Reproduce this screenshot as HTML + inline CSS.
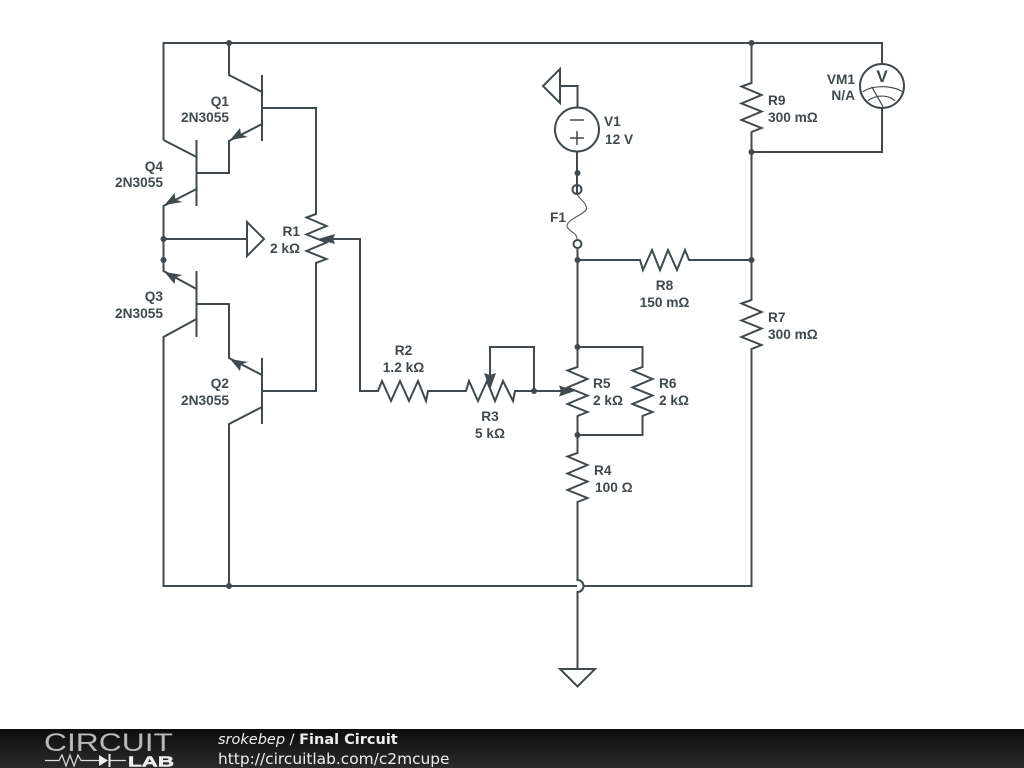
<!DOCTYPE html>
<html><head><meta charset="utf-8"><style>
html,body{margin:0;padding:0;background:#fff;width:1024px;height:768px;overflow:hidden}
svg{display:block}
.w{fill:none;stroke:#40494d;stroke-width:2;stroke-linejoin:miter}
.l{font:bold 13.700px "Liberation Sans",sans-serif;fill:#40494d}
.a{fill:#40494d;stroke:none}
</style></head><body>
<svg width="1024" height="768" viewBox="0 0 1024 768" xmlns="http://www.w3.org/2000/svg">
<defs><linearGradient id="g" x1="0" y1="0" x2="0" y2="1"><stop offset="0" stop-color="#0d0d0d"/><stop offset="1" stop-color="#2b2b2b"/></linearGradient></defs>
<g class="w">
<path d="M163.500 140V43H882V64M882 108V152H751.500"/>
<path d="M229 43V75L262 92M262 75V141M262 108H316V214L306.500 217.500L326.500 226L306.500 234.500L326.500 242.500L306.500 251L326.500 259L316 263V391H262M262 124L229 141V173H196.500"/>
<path d="M196.500 140V206M163.500 140L196.500 157M196.500 189L163.500 206V271L196.500 289M196.500 271V337M196.500 304H229V358L262 375M262 358V424M196.500 319L163.500 337V586H577M262 407L229 424V586"/>
<path d="M163.500 239H247M247 222V256L264 239Z"/>
<path d="M330 239H360V391H378L382 381L391 401L400 381L409 401L418 381L426 401L428 391H466L469 381L478 401L487 381L495 401L503 381L513 401L515 391H565"/>
<path d="M490 378V347H534V391"/>
<path d="M577.500 248V367L567.500 370.500L587.500 379L567.500 387.500L587.500 395.500L567.500 404L587.500 412L577.500 416V453L567.500 456.500L587.500 465L567.500 473.500L587.500 481.500L567.500 490L587.500 498L577.500 502V580A6 6 0 0 1 577.500 592V669"/>
<path d="M577.500 347H642.500V367L632.500 370.500L652.500 379L632.500 387.500L652.500 395.500L632.500 404L652.500 412L642.500 416V435H577.500"/>
<path d="M560 669H595L577.500 686.500Z"/>
<path d="M577.500 260H640L643 270L652 250L660 270L668 250L677 270L685 250L689 260H751.500"/>
<path d="M751.500 43V83L741.500 86.500L761.500 95L741.500 103.500L761.500 111.500L741.500 120L761.500 128L751.500 132V300L741.500 303.500L761.500 312L741.500 320.500L761.500 328.500L741.500 337L761.500 345L751.500 349V586H583.500"/>
<path d="M577.500 107V86H560M560 69V103L543 86Z"/>
<circle cx="577" cy="129.500" r="22"/>
<path d="M570 120H584M570 138H584M577 131V145" stroke-width="1.500"/>
<path d="M577 152V193.500"/>
<circle cx="577" cy="189.500" r="4.500"/>
<circle cx="577.500" cy="244" r="4"/>
<path d="M577 194C580 200 587 203 586.500 209C584 215 567 219 567 226C568 232 577 232 577 239" stroke-width="1.200" stroke="#666"/>
<circle cx="882" cy="86" r="22"/>
<path d="M862.700 91.700C873 85 892 85 903 92M868 100.700C876 94.500 888 94.500 895 100.700M871.700 86.700L883 106.700" stroke-width="1.200"/>
</g>
<g class="a">
<path d="M318 239L335 234L333 239L335 244Z"/>
<path d="M490 390L484 373L490 375L496 373Z"/>
<path d="M575 391L559 385.500L561 391L559 396.500Z"/>
<path d="M230 140L240 128L241 134.500L248 137Z"/>
<path d="M164.500 205L174.500 193L175.500 199.500L182.500 202Z"/>
<path d="M164.500 272L174.500 284L175.500 277.500L182.500 275Z"/>
<path d="M230 359L240 371L241 364.500L248 362Z"/>
<circle cx="229" cy="43" r="3"/><circle cx="751.500" cy="43" r="3"/><circle cx="751.500" cy="152" r="3"/>
<circle cx="751.500" cy="260" r="3"/><circle cx="577.500" cy="260" r="3"/><circle cx="577.500" cy="173" r="3"/>
<circle cx="163.500" cy="239" r="3"/><circle cx="163.500" cy="260" r="3"/><circle cx="229" cy="586" r="3"/>
<circle cx="534" cy="391" r="3"/><circle cx="577.500" cy="347" r="3"/><circle cx="577.500" cy="435" r="3"/>
</g>
<text x="882" y="82" text-anchor="middle" style="font:bold 17px 'Liberation Sans',sans-serif;fill:#40494d">V</text>
<g class="l">
<text x="229" y="106" text-anchor="end">Q1</text><text x="229" y="122" text-anchor="end">2N3055</text>
<text x="163" y="171" text-anchor="end">Q4</text><text x="163" y="187" text-anchor="end">2N3055</text>
<text x="163" y="301" text-anchor="end">Q3</text><text x="163" y="318" text-anchor="end">2N3055</text>
<text x="229" y="388" text-anchor="end">Q2</text><text x="229" y="405" text-anchor="end">2N3055</text>
<text x="300" y="236" text-anchor="end">R1</text><text x="300" y="253" text-anchor="end">2 kΩ</text>
<text x="403.500" y="355" text-anchor="middle">R2</text><text x="403.500" y="372" text-anchor="middle">1.2 kΩ</text>
<text x="490" y="421" text-anchor="middle">R3</text><text x="490" y="438" text-anchor="middle">5 kΩ</text>
<text x="593" y="388">R5</text><text x="593" y="405">2 kΩ</text>
<text x="659" y="388">R6</text><text x="659" y="405">2 kΩ</text>
<text x="594" y="475">R4</text><text x="595" y="492">100 Ω</text>
<text x="664.500" y="290" text-anchor="middle">R8</text><text x="664.500" y="307" text-anchor="middle">150 mΩ</text>
<text x="768" y="322">R7</text><text x="768" y="339">300 mΩ</text>
<text x="768" y="105">R9</text><text x="768" y="122">300 mΩ</text>
<text x="855" y="84" text-anchor="end">VM1</text><text x="855" y="100" text-anchor="end">N/A</text>
<text x="604" y="126">V1</text><text x="605" y="144">12 V</text>
<text x="566" y="222" text-anchor="end">F1</text>
</g>
<rect x="0" y="729" width="1024" height="39" fill="url(#g)"/>
<text x="44" y="751" textLength="129" lengthAdjust="spacingAndGlyphs" style="font:25px 'Liberation Sans',sans-serif;fill:#b8b8b8">CIRCUIT</text>
<path d="M45 760.500H59L62 755L66 766L70 755L74 766L78 755L81 760.500H100M110 760.500H126" fill="none" stroke="#ddd" stroke-width="1.200"/>
<path d="M99 755V766L108 760.500Z" fill="#eee"/><path d="M109.500 754V767" stroke="#eee" stroke-width="2"/>
<text x="128" y="766.500" textLength="46" lengthAdjust="spacingAndGlyphs" style="font:bold 15px 'Liberation Sans',sans-serif;fill:#eee;stroke:#eee;stroke-width:.5">LAB</text>
<text x="218" y="744" style="font:14.500px 'DejaVu Sans',sans-serif;fill:#eee"><tspan font-style="italic">srokebep</tspan> / <tspan font-weight="bold">Final Circuit</tspan></text>
<text x="218" y="764" style="font:15.400px 'DejaVu Sans',sans-serif;fill:#eee">http://circuitlab.com/c2mcupe</text>
</svg>
</body></html>
